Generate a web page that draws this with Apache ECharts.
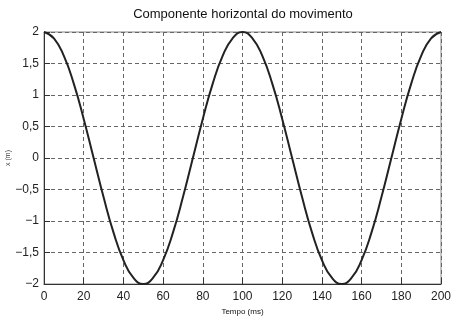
<!DOCTYPE html>
<html><head><meta charset="utf-8">
<script src="https://cdn.jsdelivr.net/npm/echarts@6/dist/echarts.min.js"></script>
<style>html,body{margin:0;padding:0;background:#fff}#c{width:460px;height:320px}</style>
</head><body><div id="c"></div>
<script>
const titleText = 'Componente horizontal do movimento';
const xName = 'Tempo (ms)';
const yName = 'x (m)';
const timeMs = [0,5,10,15,20,25,30,35,40,45,50,55,60,65,70,75,80,85,90,95,100,105,110,115,120,125,130,135,140,145,150,155,160,165,170,175,180,185,190,195,200];
const posM = [2,1.9,1.62,1.18,0.62,0,-0.62,-1.18,-1.62,-1.9,-2,-1.9,-1.62,-1.18,-0.62,0,0.62,1.18,1.62,1.9,2,1.9,1.62,1.18,0.62,0,-0.62,-1.18,-1.62,-1.9,-2,-1.9,-1.62,-1.18,-0.62,0,0.62,1.18,1.62,1.9,2];
const fmt = v => String(v).replace('.', ',').replace('-', '\u2212');
const chart = echarts.init(document.getElementById('c'), null, {renderer:'canvas'});
const ff = 'Liberation Sans, Arial, sans-serif';
chart.setOption({
  animation:false,
  title:{text:titleText,left:238,top:3,textAlign:'center',textStyle:{fontFamily:ff,fontSize:13,fontWeight:'normal',color:'#111'}},
  grid:{left:44,right:19,top:32,bottom:36,containLabel:false,outerBoundsMode:'none',show:true,borderColor:'#888',borderWidth:1,backgroundColor:'transparent'},
  xAxis:{type:'value',min:0,max:200,interval:20,
    name:xName,nameLocation:'middle',nameGap:24,nameMoveOverlap:false,nameTextStyle:{fontFamily:ff,fontSize:8,color:'#111'},
    axisLine:{show:true,onZero:false,lineStyle:{color:'#333',width:1}},
    axisTick:{show:true,inside:true,length:6,lineStyle:{color:'#333'}},
    axisLabel:{fontFamily:ff,fontSize:12,color:'#222',margin:7,formatter:fmt},
    splitLine:{show:true,lineStyle:{color:'#666',type:[4,3],width:1}}},
  yAxis:{type:'value',min:-2,max:2,interval:0.5,
    name:yName,nameLocation:'middle',nameGap:36,nameMoveOverlap:false,nameRotate:90,nameTextStyle:{fontFamily:ff,fontSize:7,color:'#333',align:'center',verticalAlign:'middle'},
    axisLine:{show:true,onZero:false,lineStyle:{color:'#333',width:1}},
    axisTick:{show:true,inside:true,length:6,lineStyle:{color:'#333'}},
    axisLabel:{fontFamily:ff,fontSize:12,color:'#222',margin:5,formatter:fmt},
    splitLine:{show:true,lineStyle:{color:'#666',type:[4,3],width:1}}},
  series:[{type:'line',data:timeMs.map((t,i)=>[t,posM[i]]),smooth:true,showSymbol:false,
    lineStyle:{color:'#222',width:2}}]
});
</script></body></html>
